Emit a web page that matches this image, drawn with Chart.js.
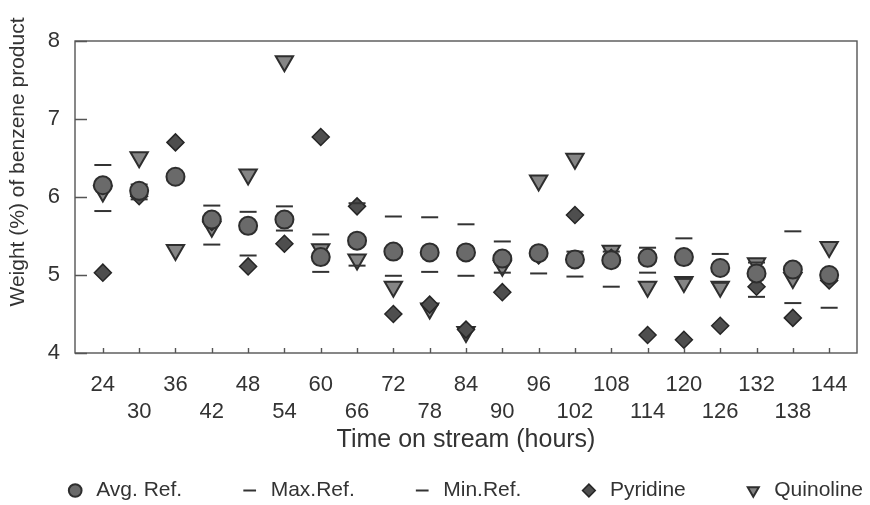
<!DOCTYPE html>
<html>
<head>
<meta charset="utf-8">
<script src="https://cdn.jsdelivr.net/npm/chart.js@4/dist/chart.umd.min.js"></script>
<style>
  html, body { margin: 0; padding: 0; background: #fff; }
  #wrap { width: 870px; height: 505px; }
</style>
</head>
<body>
<div id="wrap"><canvas id="myChart" width="870" height="505"></canvas></div>
<script>
// time on stream (hours)
var hours = [24, 30, 36, 42, 48, 54, 60, 66, 72, 78, 84, 90, 96, 102, 108, 114, 120, 126, 132, 138, 144];
var yTicks = [4, 5, 6, 7, 8];

// weight % of benzene product
var avgRef    = [6.15, 6.08, 6.26, 5.71, 5.63, 5.71, 5.23, 5.44, 5.30, 5.29, 5.29, 5.21, 5.28, 5.20, 5.19, 5.22, 5.23, 5.09, 5.02, 5.07, 5.00];
var maxRef    = [6.41, 6.16, 6.30, 5.89, 5.81, 5.88, 5.52, 5.92, 5.75, 5.74, 5.65, 5.43, 5.33, 5.30, 5.30, 5.35, 5.47, 5.27, 5.16, 5.56, 5.05];
var minRef    = [5.82, 5.97, 6.22, 5.39, 5.25, 5.57, 5.04, 5.12, 4.99, 5.04, 4.99, 5.03, 5.02, 4.98, 4.85, 5.03, 4.95, 4.90, 4.72, 4.64, 4.58];
var pyridine  = [5.03, 6.01, 6.70, 5.68, 5.11, 5.40, 6.77, 5.88, 4.50, 4.62, 4.30, 4.78, 5.25, 5.77, 5.22, 4.23, 4.17, 4.35, 4.85, 4.45, 4.93];
var quinoline = [6.07, 6.51, 5.32, 5.62, 6.29, 7.74, 5.33, 5.20, 4.85, 4.57, 4.27, 5.12, 6.21, 6.49, 5.31, 4.85, 4.91, 4.85, 5.15, 4.96, 5.36];

var yTitle = 'Weight (%) of benzene product';

function pts(values) {
    return hours.map(function (h, i) { return { x: h, y: values[i] }; });
}

var FONT = "'Liberation Sans', Arial, sans-serif";
var INK = "#333";

// plot frame, the small inward tick marks and the y title (sits above centre in the original)
var framePlugin = {
    id: 'frame',
    afterDraw: function (chart) {
        var ctx = chart.ctx;
        var a = chart.chartArea;
        var xs = chart.scales.x, ys = chart.scales.y;
        ctx.save();
        ctx.strokeStyle = "#555";
        ctx.lineWidth = 1.4;
        ctx.strokeRect(a.left, a.top, a.right - a.left, a.bottom - a.top);
        ctx.beginPath();
        yTicks.forEach(function (v) {
            var py = Math.round(ys.getPixelForValue(v)) + 0.5;
            ctx.moveTo(a.left, py);
            ctx.lineTo(a.left + 12, py);
        });
        hours.forEach(function (h) {
            var px = Math.round(xs.getPixelForValue(h)) + 0.5;
            ctx.moveTo(px, a.bottom);
            ctx.lineTo(px, a.bottom - 5);
        });
        ctx.stroke();

        ctx.translate(18, 162);
        ctx.rotate(-Math.PI / 2);
        ctx.fillStyle = INK;
        ctx.font = "21px " + FONT;
        ctx.textAlign = "center";
        ctx.textBaseline = "middle";
        ctx.fillText(yTitle, 0, 0);
        ctx.restore();
    }
};

var ctxP = document.getElementById("myChart").getContext('2d');
var myChart = new Chart(ctxP, {
    type: 'scatter',
    data: {
        datasets: [{
            label: 'Avg. Ref.',
            data: pts(avgRef),
            pointStyle: 'circle',
            pointRadius: 9,
            backgroundColor: "#6a6a6a",
            borderColor: "#2e2e2e",
            borderWidth: 2
        }, {
            label: 'Max.Ref.',
            data: pts(maxRef),
            pointStyle: 'line',
            pointRadius: 8.5,
            borderColor: "#333",
            borderWidth: 2
        }, {
            label: 'Min.Ref.',
            data: pts(minRef),
            pointStyle: 'line',
            pointRadius: 8.5,
            borderColor: "#333",
            borderWidth: 2
        }, {
            label: 'Pyridine',
            data: pts(pyridine),
            pointStyle: 'rectRot',
            pointRadius: 8.5,
            backgroundColor: "#4e4e4e",
            borderColor: "#262626",
            borderWidth: 1.5
        }, {
            label: 'Quinoline',
            data: pts(quinoline),
            pointStyle: 'triangle',
            pointRotation: 180,
            pointRadius: 10,
            backgroundColor: "#858585",
            borderColor: "#2e2e2e",
            borderWidth: 2
        }]
    },
    options: {
        responsive: false,
        animation: false,
        layout: { padding: { top: 41, right: -50, left: 0, bottom: -6 } },
        scales: {
            x: {
                type: 'linear',
                min: 19.4,
                max: 148.6,
                grid: { display: false, drawTicks: false },
                border: { display: false },
                afterBuildTicks: function (scale) {
                    scale.ticks = hours.map(function (h) { return { value: h }; });
                },
                afterFit: function (scale) { scale.height = 70; },
                ticks: {
                    includeBounds: false,
                    autoSkip: false,
                    maxRotation: 0,
                    padding: 18,
                    color: INK,
                    font: { family: FONT, size: 22, lineHeight: 1.23 },
                    callback: function (value, index) {
                        return index % 2 === 0 ? [String(value), ''] : ['', String(value)];
                    }
                },
                title: {
                    display: true,
                    text: 'Time on stream (hours)',
                    color: INK,
                    font: { family: FONT, size: 25 },
                    padding: { top: 0, bottom: -32 }
                }
            },
            y: {
                min: 4,
                max: 8,
                grid: { display: false, drawTicks: false },
                border: { display: false },
                afterBuildTicks: function (scale) {
                    scale.ticks = yTicks.map(function (v) { return { value: v }; });
                },
                afterFit: function (scale) { scale.width = 75; },
                ticks: {
                    padding: 15,
                    color: INK,
                    font: { family: FONT, size: 22 }
                }
            },
            // empty spacer on the right so the plot ends where the frame ends
            yRight: {
                position: 'right',
                min: 4,
                max: 8,
                display: true,
                grid: { display: false, drawTicks: false },
                border: { display: false },
                ticks: { display: false },
                afterFit: function (scale) { scale.width = 63; }
            }
        },
        plugins: {
            tooltip: { enabled: false },
            legend: {
                display: true,
                position: "bottom",
                align: "end",
                labels: {
                    usePointStyle: true,
                    boxWidth: 22,
                    boxHeight: 9,
                    padding: 57,
                    color: INK,
                    font: { family: FONT, size: 21 }
                }
            }
        }
    },
    plugins: [framePlugin]
});
</script>
</body>
</html>
